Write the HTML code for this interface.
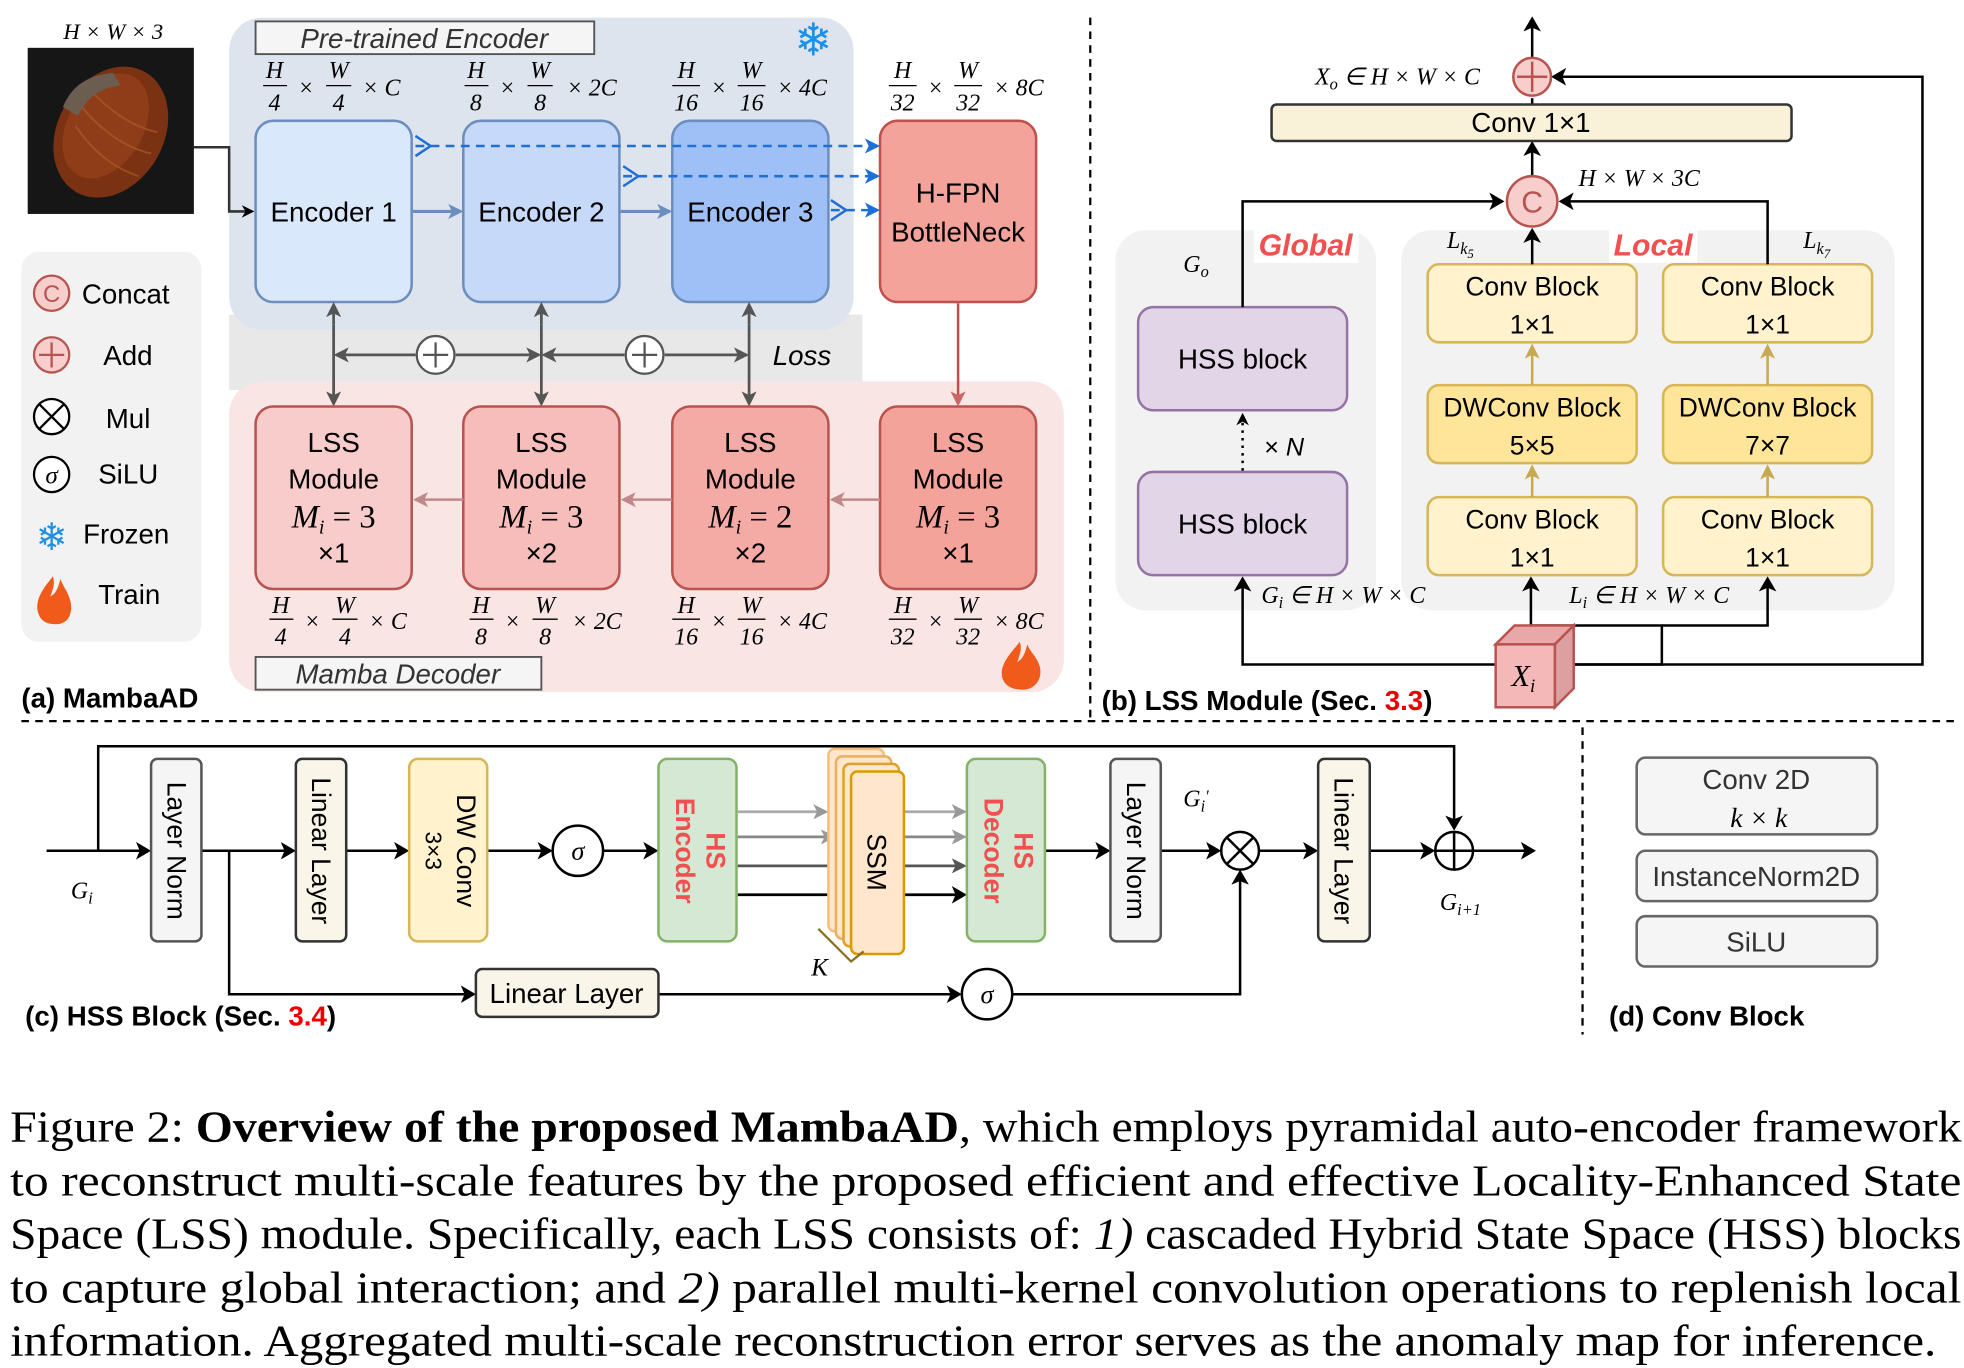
<!DOCTYPE html>
<html><head><meta charset="utf-8"><style>
html,body{margin:0;padding:0;background:#fff;}
svg{display:block}
.s{font-family:"Liberation Sans",sans-serif}
.r{font-family:"Liberation Serif",serif}
.i{font-style:italic}
</style></head><body>
<svg width="1964" height="1368" viewBox="0 0 1560 1087" preserveAspectRatio="none" xmlns="http://www.w3.org/2000/svg">
<defs>
<marker id="ak" markerWidth="10" markerHeight="10" refX="8" refY="5" orient="auto" markerUnits="userSpaceOnUse"><path d="M0,0 L10,5 L0,10 L3,5 z" fill="#000"/></marker>
<marker id="ag" markerWidth="12" markerHeight="12" refX="10" refY="6" orient="auto" markerUnits="userSpaceOnUse"><path d="M0,0 L12,6 L0,12 L3,6 z" fill="#555"/></marker>
<marker id="ab" markerWidth="12" markerHeight="12" refX="10" refY="6" orient="auto" markerUnits="userSpaceOnUse"><path d="M0,0 L12,6 L0,12 L3,6 z" fill="#6c8ebf"/></marker>
<marker id="ad" markerWidth="12" markerHeight="12" refX="10" refY="6" orient="auto" markerUnits="userSpaceOnUse"><path d="M0,0 L12,6 L0,12 L3,6 z" fill="#1f6fd6"/></marker>
<marker id="ar" markerWidth="12" markerHeight="12" refX="10" refY="6" orient="auto" markerUnits="userSpaceOnUse"><path d="M0,0 L12,6 L0,12 L3,6 z" fill="#c66"/></marker>
<marker id="ap" markerWidth="12" markerHeight="12" refX="10" refY="6" orient="auto" markerUnits="userSpaceOnUse"><path d="M0,0 L12,6 L0,12 L3,6 z" fill="#c08888"/></marker>
<marker id="ay" markerWidth="12" markerHeight="12" refX="10" refY="6" orient="auto" markerUnits="userSpaceOnUse"><path d="M0,0 L12,6 L0,12 L3,6 z" fill="#c8a850"/></marker>
<marker id="agl" markerWidth="12" markerHeight="12" refX="10" refY="6" orient="auto" markerUnits="userSpaceOnUse"><path d="M0,0 L12,6 L0,12 L3,6 z" fill="#999"/></marker>
<marker id="ak2" markerWidth="12" markerHeight="14" refX="10" refY="7" orient="auto" markerUnits="userSpaceOnUse"><path d="M0,0 L12,7 L0,14 L3,7 z" fill="#000"/></marker>
</defs>

<!-- ===== (a) ===== -->
<text x="90" y="31" class="r i" font-size="18" text-anchor="middle">H × W × 3</text>
<rect x="22" y="38" width="132" height="132" fill="#161616"/>
<ellipse cx="88" cy="105" rx="42" ry="55" transform="rotate(30 88 105)" fill="#7a3212"/>
<ellipse cx="84" cy="100" rx="30" ry="45" transform="rotate(30 84 100)" fill="#93401a" opacity="0.8"/>
<g stroke="#b0602a" stroke-width="1.5" fill="none" opacity="0.6">
<path d="M60,100 Q80,130 110,140"/><path d="M65,85 Q90,115 120,122"/><path d="M75,75 Q100,100 125,105"/></g>
<path d="M50,85 Q60,60 90,58 L96,68 Q72,70 62,92 z" fill="#6b5e50"/>

<rect x="182" y="250" width="503" height="60" fill="#e8e8e8"/>
<rect x="182" y="14" width="496" height="248" rx="26" fill="#dde4ee"/>
<rect x="182" y="303" width="663" height="247" rx="26" fill="#f8e5e4"/>
<path d="M154,117 H182 V168 H200" fill="none" stroke="#333" stroke-width="2" marker-end="url(#ak)"/>

<rect x="203" y="17" width="269" height="26" fill="#f5f5f5" stroke="#555" stroke-width="1.5"/>
<text x="337" y="38" class="s i" font-size="22" text-anchor="middle" fill="#333">Pre-trained  Encoder</text>
<text x="646" y="44" font-size="36" text-anchor="middle" fill="#1e90e6">❄</text>

<g class="r i" font-size="19" text-anchor="middle">
<text x="218" y="62">H</text><line x1="209" y1="68" x2="228" y2="68" stroke="#000"/><text x="218" y="88">4</text><text x="243" y="76">×</text>
<text x="269" y="62">W</text><line x1="259" y1="68" x2="279" y2="68" stroke="#000"/><text x="269" y="88">4</text><text x="303" y="76">× C</text>
<text x="378" y="62">H</text><line x1="369" y1="68" x2="388" y2="68" stroke="#000"/><text x="378" y="88">8</text><text x="403" y="76">×</text>
<text x="429" y="62">W</text><line x1="419" y1="68" x2="439" y2="68" stroke="#000"/><text x="429" y="88">8</text><text x="470" y="76">× 2C</text>
<text x="545" y="62">H</text><line x1="534" y1="68" x2="556" y2="68" stroke="#000"/><text x="545" y="88">16</text><text x="571" y="76">×</text>
<text x="597" y="62">W</text><line x1="586" y1="68" x2="608" y2="68" stroke="#000"/><text x="597" y="88">16</text><text x="637" y="76">× 4C</text>
<text x="717" y="62">H</text><line x1="706" y1="68" x2="728" y2="68" stroke="#000"/><text x="717" y="88">32</text><text x="743" y="76">×</text>
<text x="769" y="62">W</text><line x1="758" y1="68" x2="780" y2="68" stroke="#000"/><text x="769" y="88">32</text><text x="809" y="76">× 8C</text>
</g>

<rect x="203" y="96" width="124" height="144" rx="14" fill="#dae8fc" stroke="#6c8ebf" stroke-width="2"/>
<rect x="368" y="96" width="124" height="144" rx="14" fill="#c6d9f8" stroke="#6c8ebf" stroke-width="2"/>
<rect x="534" y="96" width="124" height="144" rx="14" fill="#9fc0f7" stroke="#6c8ebf" stroke-width="2"/>
<rect x="699" y="96" width="124" height="144" rx="14" fill="#f4a39a" stroke="#c0504d" stroke-width="2"/>
<g class="s" font-size="22" text-anchor="middle">
<text x="265" y="176">Encoder 1</text><text x="430" y="176">Encoder 2</text><text x="596" y="176">Encoder 3</text>
<text x="761" y="161">H-FPN</text><text x="761" y="192">BottleNeck</text>
</g>
<line x1="328" y1="168" x2="366" y2="168" stroke="#6c8ebf" stroke-width="2.5" marker-end="url(#ab)"/>
<line x1="493" y1="168" x2="532" y2="168" stroke="#6c8ebf" stroke-width="2.5" marker-end="url(#ab)"/>
<g stroke="#1f6fd6" stroke-width="2" fill="none">
<line x1="330" y1="116" x2="697" y2="116" stroke-dasharray="7,5" marker-end="url(#ad)"/>
<line x1="495" y1="140" x2="697" y2="140" stroke-dasharray="7,5" marker-end="url(#ad)"/>
<line x1="660" y1="167" x2="697" y2="167" stroke-dasharray="7,5" marker-end="url(#ad)"/>
<path d="M330,108 L342,116 L330,124"/><path d="M495,132 L507,140 L495,148"/><path d="M660,159 L672,167 L660,175"/>
</g>

<g stroke="#555" stroke-width="2.2" fill="none">
<line x1="265" y1="258" x2="265" y2="242" marker-end="url(#ag)"/><line x1="265" y1="258" x2="265" y2="321" marker-end="url(#ag)"/>
<line x1="430" y1="258" x2="430" y2="242" marker-end="url(#ag)"/><line x1="430" y1="258" x2="430" y2="321" marker-end="url(#ag)"/>
<line x1="595" y1="258" x2="595" y2="242" marker-end="url(#ag)"/><line x1="595" y1="258" x2="595" y2="321" marker-end="url(#ag)"/>
<line x1="330" y1="282" x2="267" y2="282" marker-end="url(#ag)"/><line x1="362" y1="282" x2="428" y2="282" marker-end="url(#ag)"/>
<line x1="496" y1="282" x2="432" y2="282" marker-end="url(#ag)"/><line x1="528" y1="282" x2="593" y2="282" marker-end="url(#ag)"/>
</g>
<g stroke="#555" stroke-width="1.8" fill="#fff"><circle cx="346" cy="282" r="15"/><circle cx="512" cy="282" r="15"/></g>
<g stroke="#555" stroke-width="1.8"><path d="M336,282 H356 M346,272 V292 M502,282 H522 M512,272 V292"/></g>
<text x="637" y="290" class="s i" font-size="22" text-anchor="middle">Loss</text>
<line x1="761" y1="241" x2="761" y2="321" stroke="#c0504d" stroke-width="2" marker-end="url(#ar)"/>

<rect x="203" y="323" width="124" height="145" rx="14" fill="#f7cccb" stroke="#b85450" stroke-width="2"/>
<rect x="368" y="323" width="124" height="145" rx="14" fill="#f6bdbb" stroke="#b85450" stroke-width="2"/>
<rect x="534" y="323" width="124" height="145" rx="14" fill="#f4aaa5" stroke="#b85450" stroke-width="2"/>
<rect x="699" y="323" width="124" height="145" rx="14" fill="#f4a39a" stroke="#b85450" stroke-width="2"/>
<g class="s" font-size="22" text-anchor="middle">
<text x="265" y="359">LSS</text><text x="265" y="388">Module</text><text x="265" y="447">×1</text>
<text x="430" y="359">LSS</text><text x="430" y="388">Module</text><text x="430" y="447">×2</text>
<text x="596" y="359">LSS</text><text x="596" y="388">Module</text><text x="596" y="447">×2</text>
<text x="761" y="359">LSS</text><text x="761" y="388">Module</text><text x="761" y="447">×1</text>
</g>
<g class="r" font-size="26" text-anchor="middle">
<text x="265" y="419"><tspan font-style="italic">M<tspan font-size="16" dy="5">i</tspan></tspan><tspan dy="-5"> = 3</tspan></text>
<text x="430" y="419"><tspan font-style="italic">M<tspan font-size="16" dy="5">i</tspan></tspan><tspan dy="-5"> = 3</tspan></text>
<text x="596" y="419"><tspan font-style="italic">M<tspan font-size="16" dy="5">i</tspan></tspan><tspan dy="-5"> = 2</tspan></text>
<text x="761" y="419"><tspan font-style="italic">M<tspan font-size="16" dy="5">i</tspan></tspan><tspan dy="-5"> = 3</tspan></text>
</g>
<g stroke="#c08888" stroke-width="2">
<line x1="368" y1="397" x2="330" y2="397" marker-end="url(#ap)"/>
<line x1="534" y1="397" x2="495" y2="397" marker-end="url(#ap)"/>
<line x1="699" y1="397" x2="661" y2="397" marker-end="url(#ap)"/>
</g>
<g class="r i" font-size="19" text-anchor="middle">
<text x="223" y="487">H</text><line x1="214" y1="492" x2="233" y2="492" stroke="#000"/><text x="223" y="512">4</text><text x="248" y="500">×</text>
<text x="274" y="487">W</text><line x1="264" y1="492" x2="284" y2="492" stroke="#000"/><text x="274" y="512">4</text><text x="308" y="500">× C</text>
<text x="382" y="487">H</text><line x1="373" y1="492" x2="392" y2="492" stroke="#000"/><text x="382" y="512">8</text><text x="407" y="500">×</text>
<text x="433" y="487">W</text><line x1="423" y1="492" x2="443" y2="492" stroke="#000"/><text x="433" y="512">8</text><text x="474" y="500">× 2C</text>
<text x="545" y="487">H</text><line x1="534" y1="492" x2="556" y2="492" stroke="#000"/><text x="545" y="512">16</text><text x="571" y="500">×</text>
<text x="597" y="487">W</text><line x1="586" y1="492" x2="608" y2="492" stroke="#000"/><text x="597" y="512">16</text><text x="637" y="500">× 4C</text>
<text x="717" y="487">H</text><line x1="706" y1="492" x2="728" y2="492" stroke="#000"/><text x="717" y="512">32</text><text x="743" y="500">×</text>
<text x="769" y="487">W</text><line x1="758" y1="492" x2="780" y2="492" stroke="#000"/><text x="769" y="512">32</text><text x="809" y="500">× 8C</text>
</g>
<rect x="203" y="522" width="227" height="26" fill="#f5f5f5" stroke="#555" stroke-width="1.5"/>
<text x="316" y="543" class="s i" font-size="22" text-anchor="middle" fill="#333">Mamba Decoder</text>
<path d="M810,510 C802,520 794,528 796,538 C798,546 806,548 812,548 C822,548 828,540 826,530 C824,522 818,518 816,512 C814,520 812,524 808,526 C810,520 812,516 810,510 z" fill="#f05a1a"/>

<rect x="17" y="200" width="143" height="310" rx="14" fill="#f2f2f2"/>
<g stroke-width="1.8">
<circle cx="41" cy="233" r="14" fill="#f8cecc" stroke="#b85450"/>
<circle cx="41" cy="282" r="14" fill="#f8cecc" stroke="#b85450"/>
<circle cx="41" cy="331" r="14" fill="#fff" stroke="#000"/>
<circle cx="41" cy="377" r="14" fill="#fff" stroke="#000"/>
</g>
<text x="41" y="240" class="s" font-size="19" text-anchor="middle" fill="#b85450">C</text>
<path d="M31,282 H51 M41,272 V292" stroke="#b85450" stroke-width="1.8"/>
<path d="M31,321 L51,341 M51,321 L31,341" stroke="#000" stroke-width="1.8"/>
<text x="41" y="384" class="r i" font-size="20" text-anchor="middle">σ</text>
<text x="41" y="437" font-size="30" text-anchor="middle" fill="#1e90e6">❄</text>
<path d="M42,458 C34,468 28,476 30,486 C32,494 38,496 44,496 C54,496 58,488 56,478 C54,470 50,466 48,460 C46,468 44,472 40,474 C42,468 44,464 42,458 z" fill="#f05a1a"/>
<g class="s" font-size="22">
<text x="65" y="241">Concat</text><text x="82" y="290">Add</text><text x="84" y="340">Mul</text>
<text x="78" y="384">SiLU</text><text x="66" y="432">Frozen</text><text x="78" y="480">Train</text>
</g>
<text x="17" y="562" class="s" font-size="22" font-weight="bold">(a) MambaAD</text>

<g stroke="#000" stroke-width="1.8" stroke-dasharray="6,5">
<line x1="866" y1="14" x2="866" y2="570"/>
<line x1="17" y1="573" x2="1555" y2="573"/>
<line x1="1257" y1="578" x2="1257" y2="822"/>
</g>

<!-- ===== (b) ===== -->
<rect x="886" y="183" width="207" height="302" rx="24" fill="#f2f2f2"/>
<rect x="1113" y="183" width="392" height="302" rx="24" fill="#f2f2f2"/>
<rect x="996" y="180" width="83" height="29" fill="#fff"/>
<text x="1037" y="203" class="s i" font-size="24" font-weight="bold" text-anchor="middle" fill="#f05050">Global</text>
<rect x="1278" y="180" width="70" height="29" fill="#fff"/>
<text x="1313" y="203" class="s i" font-size="24" font-weight="bold" text-anchor="middle" fill="#f05050">Local</text>
<text x="950" y="216" class="r i" font-size="19" text-anchor="middle">G<tspan font-size="13" dy="4">o</tspan></text>
<text x="1160" y="197" class="r i" font-size="19" text-anchor="middle">L<tspan font-size="13" dy="5">k<tspan font-size="10" dy="3">5</tspan></tspan></text>
<text x="1443" y="197" class="r i" font-size="19" text-anchor="middle">L<tspan font-size="13" dy="5">k<tspan font-size="10" dy="3">7</tspan></tspan></text>

<rect x="904" y="244" width="166" height="82" rx="12" fill="#e1d5e7" stroke="#9673a6" stroke-width="2"/>
<rect x="904" y="375" width="166" height="82" rx="12" fill="#e1d5e7" stroke="#9673a6" stroke-width="2"/>
<g class="s" font-size="22" text-anchor="middle"><text x="987" y="293">HSS block</text><text x="987" y="424">HSS block</text></g>
<line x1="987" y1="374" x2="987" y2="330" stroke="#000" stroke-width="2" stroke-dasharray="2,4" marker-end="url(#ak)"/>
<text x="1020" y="362" class="s" font-size="20" text-anchor="middle">× <tspan font-style="italic">N</tspan></text>

<g stroke-width="2">
<rect x="1134" y="210" width="166" height="62" rx="9" fill="#fff2cc" stroke="#d6b656"/>
<rect x="1321" y="210" width="166" height="62" rx="9" fill="#fff2cc" stroke="#d6b656"/>
<rect x="1134" y="306" width="166" height="62" rx="9" fill="#ffe599" stroke="#d6b656"/>
<rect x="1321" y="306" width="166" height="62" rx="9" fill="#ffe599" stroke="#d6b656"/>
<rect x="1134" y="395" width="166" height="62" rx="9" fill="#fff2cc" stroke="#d6b656"/>
<rect x="1321" y="395" width="166" height="62" rx="9" fill="#fff2cc" stroke="#d6b656"/>
</g>
<g class="s" font-size="21" text-anchor="middle">
<text x="1217" y="235">Conv Block</text><text x="1217" y="265">1×1</text>
<text x="1404" y="235">Conv Block</text><text x="1404" y="265">1×1</text>
<text x="1217" y="331">DWConv Block</text><text x="1217" y="361">5×5</text>
<text x="1404" y="331">DWConv Block</text><text x="1404" y="361">7×7</text>
<text x="1217" y="420">Conv Block</text><text x="1217" y="450">1×1</text>
<text x="1404" y="420">Conv Block</text><text x="1404" y="450">1×1</text>
</g>
<g stroke="#c8a850" stroke-width="2">
<line x1="1217" y1="306" x2="1217" y2="275" marker-end="url(#ay)"/><line x1="1404" y1="306" x2="1404" y2="275" marker-end="url(#ay)"/>
<line x1="1217" y1="395" x2="1217" y2="371" marker-end="url(#ay)"/><line x1="1404" y1="395" x2="1404" y2="371" marker-end="url(#ay)"/>
</g>

<g stroke="#000" stroke-width="2" fill="none">
<path d="M987,244 V160 H1193" marker-end="url(#ak2)"/>
<path d="M1404,210 V160 H1240" marker-end="url(#ak2)"/>
<line x1="1217" y1="210" x2="1217" y2="183" marker-end="url(#ak2)"/>
<line x1="1217" y1="140" x2="1217" y2="114" marker-end="url(#ak2)"/>
<line x1="1217" y1="83" x2="1217" y2="78"/>
<line x1="1217" y1="46" x2="1217" y2="15" marker-end="url(#ak2)"/>
<path d="M1250,528 H1527 V61 H1234" marker-end="url(#ak2)"/>
<path d="M1188,528 H987 V460" marker-end="url(#ak2)"/>
<path d="M1250,528 H1320 V497 H1216 V460" marker-end="url(#ak2)"/>
<path d="M1320,497 H1404 V460" marker-end="url(#ak2)"/>
</g>
<circle cx="1217" cy="160" r="20" fill="#f8cecc" stroke="#b85450" stroke-width="2"/>
<text x="1217" y="169" class="s" font-size="24" text-anchor="middle" fill="#b85450">C</text>
<text x="1302" y="148" class="r i" font-size="19" text-anchor="middle">H × W × 3C</text>
<rect x="1010" y="83" width="413" height="29" rx="4" fill="#f9f2d9" stroke="#333" stroke-width="2"/>
<text x="1216" y="105" class="s" font-size="22" text-anchor="middle">Conv 1×1</text>
<circle cx="1217" cy="61" r="15" fill="#f8cecc" stroke="#b85450" stroke-width="2"/>
<path d="M1205,61 H1229 M1217,49 V73" stroke="#b85450" stroke-width="2"/>
<text x="1110" y="67" class="r i" font-size="19" text-anchor="middle">X<tspan font-size="13" dy="4">o</tspan><tspan dy="-4"> ∈ H × W × C</tspan></text>
<text x="1067" y="479" class="r i" font-size="19" text-anchor="middle">G<tspan font-size="13" dy="4">i</tspan><tspan dy="-4"> ∈ H × W × C</tspan></text>
<text x="1310" y="479" class="r i" font-size="19" text-anchor="middle">L<tspan font-size="13" dy="4">i</tspan><tspan dy="-4"> ∈ H × W × C</tspan></text>
<path d="M1188,512 L1203,497 L1250,497 L1235,512 z" fill="#e8a8a8" stroke="#b85450" stroke-width="2"/>
<path d="M1235,512 L1250,497 L1250,547 L1235,562 z" fill="#dca0a0" stroke="#b85450" stroke-width="2"/>
<rect x="1188" y="512" width="47" height="50" fill="#f4b8b8" stroke="#b85450" stroke-width="2"/>
<text x="1210" y="545" class="r i" font-size="24" text-anchor="middle">X<tspan font-size="15" dy="5">i</tspan></text>
<text x="875" y="564" class="s" font-size="22" font-weight="bold">(b) LSS Module (Sec. <tspan fill="#e00">3.3</tspan>)</text>

<!-- ===== (c) ===== -->
<g stroke="#000" stroke-width="2" fill="none">
<path d="M78,676 V593 H1155 V658" marker-end="url(#ak2)"/>
<line x1="37" y1="676" x2="118" y2="676" marker-end="url(#ak2)"/>
<line x1="160" y1="676" x2="233" y2="676" marker-end="url(#ak2)"/>
<line x1="275" y1="676" x2="323" y2="676" marker-end="url(#ak2)"/>
<line x1="387" y1="676" x2="437" y2="676" marker-end="url(#ak2)"/>
<line x1="479" y1="676" x2="521" y2="676" marker-end="url(#ak2)"/>
<line x1="830" y1="676" x2="880" y2="676" marker-end="url(#ak2)"/>
<line x1="922" y1="676" x2="968" y2="676" marker-end="url(#ak2)"/>
<line x1="1000" y1="676" x2="1045" y2="676" marker-end="url(#ak2)"/>
<line x1="1088" y1="676" x2="1138" y2="676" marker-end="url(#ak2)"/>
<line x1="1170" y1="676" x2="1218" y2="676" marker-end="url(#ak2)"/>
<path d="M182,676 V790 H376" marker-end="url(#ak2)"/>
<line x1="523" y1="790" x2="762" y2="790" marker-end="url(#ak2)"/>
<path d="M804,790 H985 V693" marker-end="url(#ak2)"/>
</g>
<g stroke-width="2.2">
<line x1="586" y1="645" x2="656" y2="645" stroke="#aaa" marker-end="url(#agl)"/>
<line x1="586" y1="665" x2="662" y2="665" stroke="#888" marker-end="url(#agl)"/>
<line x1="586" y1="688" x2="667" y2="688" stroke="#555" marker-end="url(#ag)"/>
<line x1="586" y1="711" x2="674" y2="711" stroke="#000" marker-end="url(#ak2)"/>
<line x1="718" y1="645" x2="766" y2="645" stroke="#aaa" marker-end="url(#agl)"/>
<line x1="718" y1="665" x2="766" y2="665" stroke="#888" marker-end="url(#agl)"/>
<line x1="718" y1="688" x2="766" y2="688" stroke="#555" marker-end="url(#ag)"/>
<line x1="718" y1="711" x2="766" y2="711" stroke="#000" marker-end="url(#ak2)"/>
</g>
<text x="65" y="714" class="r i" font-size="19" text-anchor="middle">G<tspan font-size="13" dy="4">i</tspan></text>
<g stroke-width="2">
<rect x="120" y="603" width="40" height="145" rx="5" fill="#f5f5f5" stroke="#555"/>
<rect x="235" y="603" width="40" height="145" rx="5" fill="#f9f5e8" stroke="#333"/>
<rect x="325" y="603" width="62" height="145" rx="7" fill="#fff2cc" stroke="#d6b656"/>
<rect x="523" y="603" width="62" height="145" rx="7" fill="#d5e8d4" stroke="#82b366"/>
<rect x="768" y="603" width="62" height="145" rx="7" fill="#d5e8d4" stroke="#82b366"/>
<rect x="882" y="603" width="40" height="145" rx="5" fill="#f5f5f5" stroke="#555"/>
<rect x="1047" y="603" width="41" height="145" rx="5" fill="#f9f5e8" stroke="#333"/>
<rect x="658" y="595" width="44" height="145" rx="5" fill="#ffe6cc" stroke="#f0c080"/>
<rect x="664" y="601" width="44" height="145" rx="5" fill="#ffe6cc" stroke="#e8b060"/>
<rect x="670" y="607" width="44" height="145" rx="5" fill="#ffe6cc" stroke="#e0a030"/>
<rect x="676" y="613" width="42" height="145" rx="5" fill="#ffe6cc" stroke="#d79b00"/>
</g>
<g class="s" font-size="21">
<text transform="translate(133,676) rotate(90)" text-anchor="middle">Layer Norm</text>
<text transform="translate(248,676) rotate(90)" text-anchor="middle">Linear Layer</text>
<text transform="translate(363,676) rotate(90)" text-anchor="middle">DW Conv</text>
<text transform="translate(338,676) rotate(90)" text-anchor="middle" font-size="18">3×3</text>
<text transform="translate(561,676) rotate(90)" text-anchor="middle" fill="#f05050" font-weight="bold">HS</text>
<text transform="translate(537,676) rotate(90)" text-anchor="middle" fill="#f05050" font-weight="bold">Encoder</text>
<text transform="translate(806,676) rotate(90)" text-anchor="middle" fill="#f05050" font-weight="bold">HS</text>
<text transform="translate(782,676) rotate(90)" text-anchor="middle" fill="#f05050" font-weight="bold">Decoder</text>
<text transform="translate(689,685) rotate(90)" text-anchor="middle">SSM</text>
<text transform="translate(895,676) rotate(90)" text-anchor="middle">Layer Norm</text>
<text transform="translate(1060,676) rotate(90)" text-anchor="middle">Linear Layer</text>
</g>
<path d="M650,738 L676,764 L686,756" fill="none" stroke="#8a7020" stroke-width="1.8"/>
<text x="651" y="775" class="r i" font-size="20" text-anchor="middle">K</text>
<circle cx="459" cy="676" r="20" fill="#fff" stroke="#000" stroke-width="2"/>
<text x="459" y="683" class="r i" font-size="21" text-anchor="middle">σ</text>
<circle cx="784" cy="790" r="20" fill="#fff" stroke="#000" stroke-width="2"/>
<text x="784" y="797" class="r i" font-size="21" text-anchor="middle">σ</text>
<circle cx="985" cy="676" r="15" fill="#fff" stroke="#000" stroke-width="2"/>
<path d="M974,665 L996,687 M996,665 L974,687" stroke="#000" stroke-width="2"/>
<circle cx="1155" cy="676" r="15" fill="#fff" stroke="#000" stroke-width="2"/>
<path d="M1140,676 H1170 M1155,661 V691" stroke="#000" stroke-width="2"/>
<text x="950" y="641" class="r i" font-size="19" text-anchor="middle">G<tspan font-size="13" dy="4">i</tspan><tspan dy="-8" font-size="13">′</tspan></text>
<text x="1160" y="723" class="r i" font-size="19" text-anchor="middle">G<tspan font-size="13" dy="4">i+1</tspan></text>
<rect x="378" y="770" width="145" height="38" rx="5" fill="#f9f5e8" stroke="#333" stroke-width="2"/>
<text x="450" y="797" class="s" font-size="22" text-anchor="middle">Linear Layer</text>
<text x="20" y="815" class="s" font-size="22" font-weight="bold">(c) HSS Block (Sec. <tspan fill="#e00">3.4</tspan>)</text>

<!-- ===== (d) ===== -->
<g stroke="#666" stroke-width="2" fill="#f5f5f5">
<rect x="1300" y="602" width="191" height="61" rx="7"/>
<rect x="1300" y="676" width="191" height="40" rx="7"/>
<rect x="1300" y="728" width="191" height="40" rx="7"/>
</g>
<g class="s" font-size="22" text-anchor="middle" fill="#333">
<text x="1395" y="627">Conv 2D</text>
<text x="1395" y="704">InstanceNorm2D</text>
<text x="1395" y="756">SiLU</text>
</g>
<text x="1397" y="657" class="r i" font-size="22" text-anchor="middle">k × k</text>
<text x="1278" y="815" class="s" font-size="22" font-weight="bold">(d) Conv Block</text>

<g class="r" font-size="35">
<text x="8" y="907" textLength="1550" lengthAdjust="spacingAndGlyphs">Figure 2: <tspan font-weight="bold">Overview of the proposed MambaAD</tspan>, which employs pyramidal auto-encoder framework</text>
<text x="8" y="950" textLength="1550" lengthAdjust="spacingAndGlyphs">to reconstruct multi-scale features by the proposed efficient and effective Locality-Enhanced State</text>
<text x="8" y="992" textLength="1550" lengthAdjust="spacingAndGlyphs">Space (LSS) module. Specifically, each LSS consists of: <tspan font-style="italic">1)</tspan> cascaded Hybrid State Space (HSS) blocks</text>
<text x="8" y="1035" textLength="1550" lengthAdjust="spacingAndGlyphs">to capture global interaction; and <tspan font-style="italic">2)</tspan> parallel multi-kernel convolution operations to replenish local</text>
<text x="8" y="1077" textLength="1530" lengthAdjust="spacingAndGlyphs">information. Aggregated multi-scale reconstruction error serves as the anomaly map for inference.</text>
</g>
</svg>
</body></html>
